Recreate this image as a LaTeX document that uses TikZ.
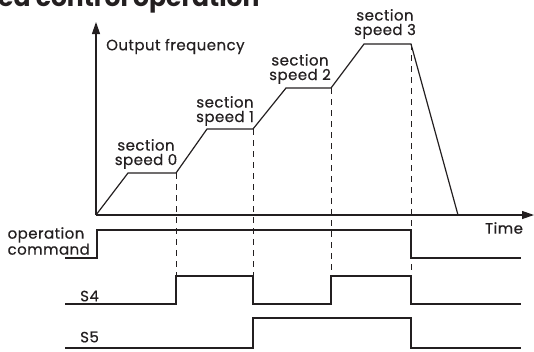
\documentclass[tikz,border=0pt]{standalone}
\usepackage{fontspec}
\setmainfont{Poppins}
\newfontfamily\lblfont[LetterSpace=3,FakeBold=0.4]{Poppins}
\usetikzlibrary{arrows.meta}
\definecolor{ink}{HTML}{231F20}
\tikzset{
  lbl/.style={inner sep=0pt, text=ink, font=\lblfont\fontsize{15}{14.5}\selectfont},
  sig/.style={draw=ink, line width=1.2pt, line join=miter},
  axis/.style={draw=ink, line width=1.2pt, -{Triangle[length=12pt,width=8pt]}},
  guide/.style={draw=ink, line width=0.9pt, dash pattern=on 6pt off 5pt}
}
\begin{document}
\begin{tikzpicture}[x=1pt,y=-1pt]
\useasboundingbox (0,0) rectangle (534,351);
\clip (0,0) rectangle (534,351);
% clipped title
\node[inner sep=0pt, anchor=base west, text=ink, font=\fontsize{25}{25}\selectfont\bfseries] (title) at (-2,6.2) {ed control operation};
% axes
\coordinate (O) at (96,215);
\coordinate (ytop) at (96,22);
\coordinate (xend) at (534,215);
\draw[axis] (O) -- (ytop);
\draw[axis] (O) -- (xend);
\node[lbl, anchor=west] (yl) at (106,46.5) {Output frequency};
\node[lbl] (xl) at (504,228) {Time};
% dashed guides
\draw[guide] (176,173) -- (176,276);
\draw[guide] (253,129) -- (253,276);
\draw[guide] (331,88) -- (331,276);
\draw[guide] (411,44) -- (411,276);
% frequency profile
\draw[sig] (O) -- (128,173) -- (176,173) -- (207,129) -- (253,129) -- (286,88) -- (331,88) -- (364,44) -- (411,44) -- (458,215);
\node[lbl, align=center] (s0) at (146,154) {section\\speed 0};
\node[lbl, align=center] (s1) at (225,111) {section\\speed 1};
\node[lbl, align=center] (s2) at (300,69) {section\\speed 2};
\node[lbl, align=center] (s3) at (385,24) {section\\speed 3};
% operation command
\draw[sig] (65,258) -- (97,258) -- (97,230) -- (411,230) -- (411,258) -- (521,258);
\node[lbl, align=left, anchor=east] (oc) at (90,241) {operation\\command};
% S4
\draw[sig] (65,304) -- (176,304) -- (176,276) -- (253,276) -- (253,304) -- (331,304) -- (331,276) -- (411,276) -- (411,304) -- (521,304);
\node[lbl, anchor=west] (s4) at (80,296) {S4};
% S5
\draw[sig] (65,348) -- (253,348) -- (253,318) -- (411,318) -- (411,348) -- (521,348);
\node[lbl, anchor=west] (s5) at (80,337) {S5};
\end{tikzpicture}
\end{document}
